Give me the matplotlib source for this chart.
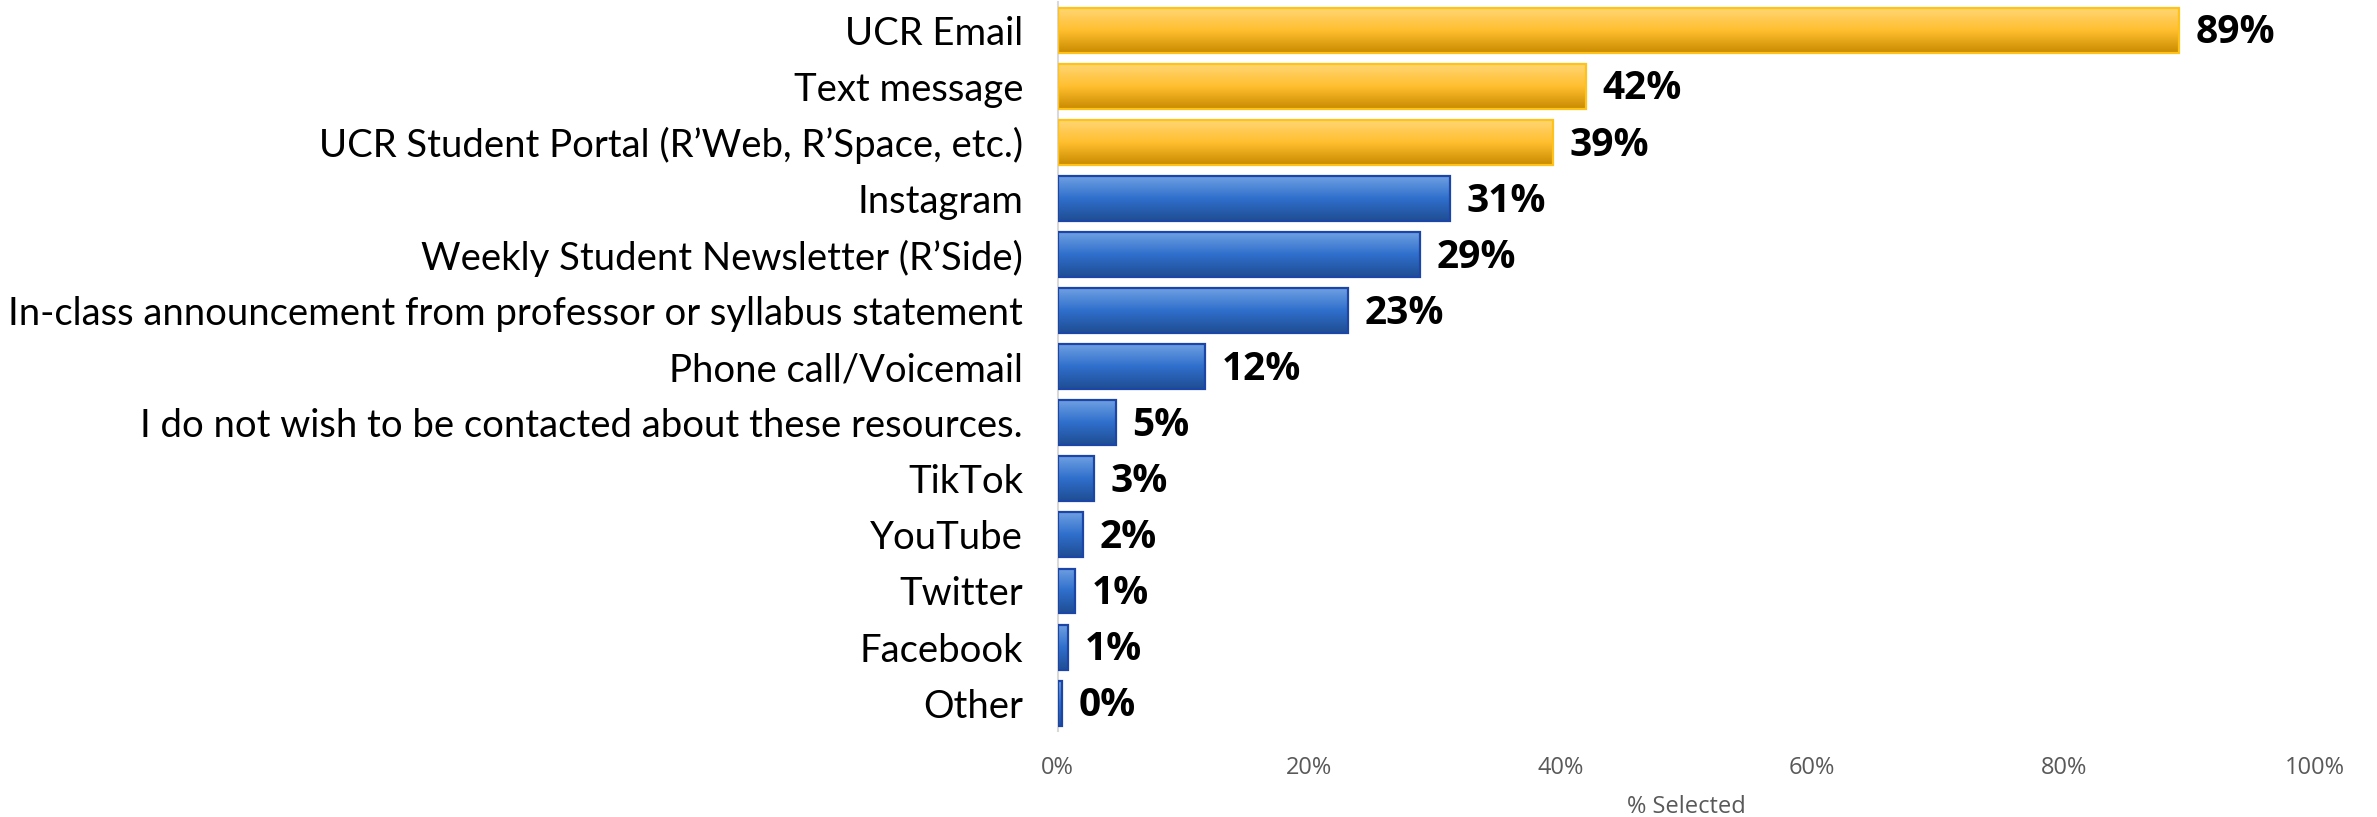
import numpy as np
import matplotlib
matplotlib.use("Agg")
import matplotlib.pyplot as plt
from matplotlib.colors import LinearSegmentedColormap

categories = [
    "UCR Email",
    "Text message",
    "UCR Student Portal (R\u2019Web, R\u2019Space, etc.)",
    "Instagram",
    "Weekly Student Newsletter (R\u2019Side)",
    "In-class announcement from professor or syllabus statement",
    "Phone call/Voicemail",
    "I do not wish to be contacted about these resources.",
    "TikTok",
    "YouTube",
    "Twitter",
    "Facebook",
    "Other",
]
values = [89.2, 42.0, 39.4, 31.2, 28.8, 23.1, 11.7, 4.6, 2.9, 2.0, 1.4, 0.8, 0.3]
value_labels = ["89%", "42%", "39%", "31%", "29%", "23%", "12%", "5%", "3%", "2%", "1%", "1%", "0%"]
highlight = [True, True, True] + [False] * 10
xticks = [0, 20, 40, 60, 80, 100]
xtick_labels = ["0%", "20%", "40%", "60%", "80%", "100%"]
xlabel = "% Selected"

gold_cmap = LinearSegmentedColormap.from_list("gold", ["#FFD673", "#FFBE2E", "#C88A00"])
blue_cmap = LinearSegmentedColormap.from_list("blue", ["#6FA0E2", "#2F6FCC", "#1F4D92"])
gold_edge = "#FFC21A"
blue_edge = "#1B45A6"

fig = plt.figure(figsize=(23.77, 8.17), dpi=100)
ax = fig.add_axes([0.445, 0.105, 0.529, 0.8925])

y = np.arange(len(categories))
bars = ax.barh(y, values, height=0.8, color="none", edgecolor="none")

grad = np.linspace(0, 1, 256).reshape(-1, 1)
for bar, hl in zip(bars, highlight):
    x0, yb = bar.get_x(), bar.get_y()
    w, h = bar.get_width(), bar.get_height()
    cmap = gold_cmap if hl else blue_cmap
    ax.imshow(grad, cmap=cmap, extent=[x0, x0 + w, yb + h, yb], aspect="auto",
              interpolation="bicubic", zorder=2, origin="upper")
    ax.add_patch(plt.Rectangle((x0, yb), w, h, fill=False,
                               edgecolor=gold_edge if hl else blue_edge,
                               linewidth=1.6, zorder=3))
ax.set_ylim(len(categories) - 0.5, -0.5)
ax.set_xlim(0, 100)

for yi, v, lab in zip(y, values, value_labels):
    ax.annotate(lab, (v, yi), xytext=(12, -2), textcoords="offset points",
                ha="left", va="center", fontsize=28, fontweight="bold",
                color="black", family="Open Sans")

ax.set_yticks(y)
ax.set_yticklabels(categories, fontsize=27.5, family="Lato", color="black")
ax.set_xticks(xticks)
ax.set_xticklabels(xtick_labels, fontsize=17, color="#595959", family="Open Sans")
ax.tick_params(axis="both", length=0)
ax.tick_params(axis="x", pad=18)
ax.tick_params(axis="y", pad=25)

for s in ["top", "right", "bottom"]:
    ax.spines[s].set_visible(False)
ax.spines["left"].set_color("#D9D9D9")
ax.spines["left"].set_linewidth(1.5)

fig.text(ax.get_position().x0 + ax.get_position().width / 2, 1 - 807 / 817, xlabel,
         ha="center", va="center", fontsize=17, color="#595959", family="Open Sans")

fig.savefig("out.png", dpi=100, facecolor="white")
